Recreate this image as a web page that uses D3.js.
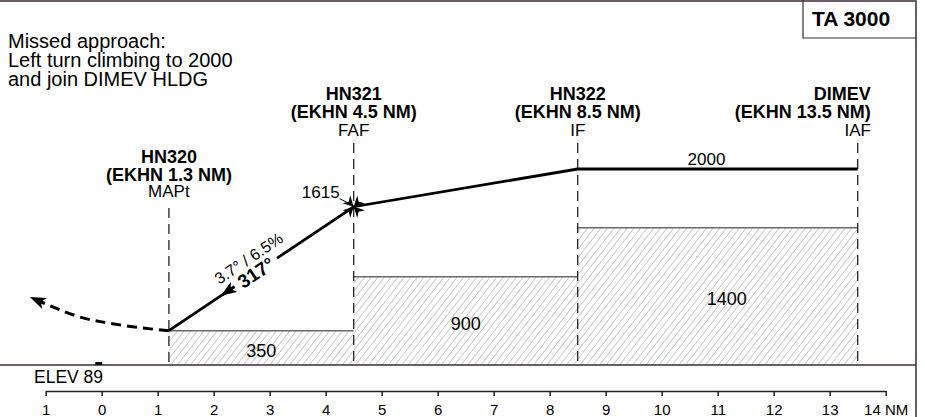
<!DOCTYPE html>
<html>
<head>
<meta charset="utf-8">
<script src="https://cdn.jsdelivr.net/npm/d3@7"></script>
<style>
  html, body { margin: 0; padding: 0; background: #fff; }
  svg { display: block; font-family: "Liberation Sans", Arial, Helvetica, sans-serif; }
</style>
</head>
<body>
<div id="chart"></div>
<script>
// fixes along the final approach (distance from threshold in NM)
const fixNames = ['HN320', 'HN321', 'HN322', 'DIMEV'];
const fixRanges = ['(EKHN 1.3 NM)', '(EKHN 4.5 NM)', '(EKHN 8.5 NM)', '(EKHN 13.5 NM)'];
const fixRoles = ['MAPt', 'FAF', 'IF', 'IAF'];
const fixNm = [1.2, 4.5, 8.5, 13.5];
// vertical profile, ft
const profileFt = [350, 1615, 2000, 2000];
// obstacle clearance blocks
const ocaFromNm = [1.2, 4.5, 8.5];
const ocaToNm = [4.5, 8.5, 13.5];
const ocaFt = [350, 900, 1400];
// missed approach turn (dashed)
const missedNm = [1.2, 0.55, 0, -0.5, -1.25];
const missedFt = [350, 390, 440, 510, 685];
// distance scale
const tickNm = [-1, 0, 1, 2, 3, 4, 5, 6, 7, 8, 9, 10, 11, 12, 13, 14];
const tickLabels = ['1', '0', '1', '2', '3', '4', '5', '6', '7', '8', '9', '10', '11', '12', '13', '14 NM'];
const noteLines = ['Missed approach:', 'Left turn climbing to 2000', 'and join DIMEV HLDG'];
const transAlt = 'TA 3000';
const elevText = 'ELEV 89';
const gradientText = '3.7° / 6.5%';
const trackText = '317°';

const W = 925, H = 417;
const frameRight = 916, tabLeft = 803, tabBottom = 38;
const axisY = 391;
const ink = '#3a2a3a';

const svg = d3.select('#chart').append('svg')
  .attr('width', W)
  .attr('height', H);

const x = d3.scaleLinear().domain([-1, 14]).range([45.7, 885.7]);
const y = d3.scaleLinear().domain([0, 2000]).range([365, 169]);

// hatch for the obstacle blocks
const defs = svg.append('defs');
defs.append('pattern')
  .attr('id', 'hatch')
  .attr('patternUnits', 'userSpaceOnUse')
  .attr('width', 5.2).attr('height', 10)
  .attr('patternTransform', 'rotate(38)')
  .append('line')
  .attr('x1', 0).attr('y1', -1).attr('x2', 0).attr('y2', 11)
  .attr('stroke', '#999').attr('stroke-width', 1);

defs.append('marker')
  .attr('id', 'head')
  .attr('markerUnits', 'userSpaceOnUse')
  .attr('viewBox', '0 0 16 12')
  .attr('markerWidth', 16).attr('markerHeight', 12)
  .attr('refX', 14).attr('refY', 6)
  .attr('orient', 'auto')
  .append('path')
  .attr('d', 'M0,0 L16,6 L0,12 L4,6 Z')
  .attr('fill', '#000');

// frame
svg.append('path')
  .attr('d', `M0,1 H${frameRight} V${H}`)
  .attr('fill', 'none').attr('stroke', ink).attr('stroke-width', 1.5);
svg.append('path')
  .attr('d', `M${tabLeft},0 V${tabBottom} H${frameRight}`)
  .attr('fill', 'none').attr('stroke', ink).attr('stroke-width', 1.2);
svg.append('text')
  .attr('x', 851).attr('y', 26)
  .attr('text-anchor', 'middle')
  .style('font-size', '21px').style('font-weight', 'bold')
  .text(transAlt);

// missed approach note
svg.append('text')
  .attr('x', 8).attr('y', 48)
  .style('font-size', '20px')
  .selectAll('tspan')
  .data(noteLines)
  .enter()
  .append('tspan')
  .attr('x', 8)
  .attr('dy', (d, i) => i ? 19 : 0)
  .text(d => d);

// obstacle blocks
const blocks = ocaFt.map((ft, i) => ({from: ocaFromNm[i], to: ocaToNm[i], ft}));
svg.selectAll('rect.oca')
  .data(blocks)
  .enter()
  .append('rect')
  .attr('class', 'oca')
  .attr('x', d => x(d.from))
  .attr('y', d => y(d.ft))
  .attr('width', d => x(d.to) - x(d.from))
  .attr('height', d => y(0) - y(d.ft))
  .attr('fill', 'url(#hatch)');
svg.selectAll('line.oca-top')
  .data(blocks)
  .enter()
  .append('line')
  .attr('x1', d => x(d.from)).attr('x2', d => x(d.to))
  .attr('y1', d => y(d.ft)).attr('y2', d => y(d.ft))
  .attr('stroke', '#6a6a6a').attr('stroke-width', 1.6);
svg.selectAll('text.oca')
  .data(blocks)
  .enter()
  .append('text')
  .attr('x', (d, i) => x((d.from + d.to) / 2) + (i === 2 ? 9 : 0))
  .attr('y', d => (y(d.ft) + y(0)) / 2 + 9)
  .attr('text-anchor', 'middle')
  .style('font-size', '18px')
  .text(d => d.ft);

// fix lines + labels
const fixes = fixNm.map((nm, i) => ({nm, name: fixNames[i], range: fixRanges[i], role: fixRoles[i]}));
svg.selectAll('line.fix')
  .data(fixes)
  .enter()
  .append('line')
  .attr('x1', d => x(d.nm)).attr('x2', d => x(d.nm))
  .attr('y1', (d, i) => i === 0 ? 208 : 143)
  .attr('y2', y(0))
  .attr('stroke', '#222').attr('stroke-width', 1.3)
  .attr('stroke-dasharray', '10,6');

const fixLabel = svg.selectAll('g.fix-label')
  .data(fixes)
  .enter()
  .append('g')
  .attr('transform', (d, i) => `translate(${x(d.nm)},${i === 0 ? 163 : 100})`);
// the last fix sits near the frame, so its bold lines end at a fixed edge
fixLabel.append('text')
  .attr('x', (d, i) => i === 3 ? 13 : 0)
  .attr('text-anchor', (d, i) => i === 3 ? 'end' : 'middle')
  .style('font-size', '18px').style('font-weight', 'bold')
  .text(d => d.name);
fixLabel.append('text')
  .attr('x', (d, i) => i === 3 ? 13 : 0)
  .attr('y', (d, i) => i === 0 ? 17.5 : 18)
  .attr('text-anchor', (d, i) => i === 3 ? 'end' : 'middle')
  .style('font-size', '18px').style('font-weight', 'bold')
  .text(d => d.range);
fixLabel.append('text')
  .attr('y', (d, i) => i === 0 ? 34 : 36)
  .attr('text-anchor', 'middle')
  .style('font-size', '17px')
  .text(d => d.role);

// ground
svg.append('line')
  .attr('x1', 0).attr('x2', frameRight)
  .attr('y1', y(0)).attr('y2', y(0))
  .attr('stroke', ink).attr('stroke-width', 1.5);
svg.append('rect')
  .attr('x', x(0) - 6.5).attr('y', y(0) - 3)
  .attr('width', 7).attr('height', 3)
  .attr('fill', '#111');
svg.append('text')
  .attr('x', 34).attr('y', 383)
  .style('font-size', '17.5px')
  .text(elevText);

// vertical profile
const pt = (i, t) => [
  x(fixNm[i] + t * (fixNm[i + 1] - fixNm[i])),
  y(profileFt[i] + t * (profileFt[i + 1] - profileFt[i]))
];
const line = d3.line();
const tGapStart = 0.355, tGapEnd = 0.585, tArrow = 0.29, tText = 0.47;

svg.append('path')
  .attr('d', line([pt(0, tGapEnd), ...fixNm.slice(1).map((nm, i) => [x(nm), y(profileFt[i + 1])])]))
  .attr('fill', 'none').attr('stroke', '#000').attr('stroke-width', 2.8);
svg.append('path')
  .attr('d', line([pt(0, 0), pt(0, tGapStart)]))
  .attr('fill', 'none').attr('stroke', '#000').attr('stroke-width', 2.8);
svg.append('path')
  .attr('d', line([pt(0, tGapStart), pt(0, tArrow)]))
  .attr('fill', 'none').attr('stroke', '#000').attr('stroke-width', 2.8)
  .attr('marker-end', 'url(#head)');

const p0 = pt(0, 0), p1 = pt(0, 1);
const angle = Math.atan2(p1[1] - p0[1], p1[0] - p0[0]) * 180 / Math.PI;
const pc = pt(0, tText);
const slopeLabel = svg.append('g')
  .attr('transform', `translate(${pc[0]},${pc[1]}) rotate(${angle})`);
slopeLabel.append('text')
  .attr('y', 7)
  .attr('text-anchor', 'middle')
  .style('font-size', '19px').style('font-weight', 'bold')
  .text(trackText);
slopeLabel.append('text')
  .attr('x', 2).attr('y', -10)
  .attr('text-anchor', 'middle')
  .style('font-size', '16px')
  .text(gradientText);

// FAF symbol
const faf = [x(fixNm[1]), y(profileFt[1])];
const cross = d3.range(4).map(k => {
  const a = (45 + k * 90) * Math.PI / 180, r = 10.5, w = 5.5;
  const rot = (px, py) => [px * Math.cos(a) - py * Math.sin(a), px * Math.sin(a) + py * Math.cos(a)];
  return [[0, 0], rot(r, -w), rot(r - 3.5, 0), rot(r, w)];
});
svg.append('g')
  .attr('transform', `translate(${faf[0]},${faf[1]})`)
  .selectAll('path')
  .data(cross)
  .enter()
  .append('path')
  .attr('d', d => d3.line()(d) + 'Z')
  .attr('fill', '#000');
svg.append('line')
  .attr('x1', faf[0] - 14).attr('y1', faf[1] - 8)
  .attr('x2', faf[0] - 6).attr('y2', faf[1] - 4)
  .attr('stroke', '#000').attr('stroke-width', 1);
svg.append('text')
  .attr('x', faf[0] - 14).attr('y', faf[1] - 9)
  .attr('text-anchor', 'end')
  .style('font-size', '17px')
  .text(profileFt[1]);

// level segment label
svg.append('text')
  .attr('x', x(10.8)).attr('y', y(profileFt[3]) - 4)
  .attr('text-anchor', 'middle')
  .style('font-size', '17px')
  .text(profileFt[3]);

// missed approach turn
svg.append('path')
  .attr('d', d3.line().curve(d3.curveNatural)(missedNm.map((nm, i) => [x(nm), y(missedFt[i])])))
  .attr('fill', 'none').attr('stroke', '#000').attr('stroke-width', 3)
  .attr('stroke-dasharray', '10,6')
  .attr('marker-end', 'url(#head)');

// distance scale
const axis = d3.axisBottom(x)
  .tickValues(tickNm)
  .tickFormat((d, i) => tickLabels[i])
  .tickSize(5)
  .tickSizeOuter(0)
  .tickPadding(8.5);
const axisG = svg.append('g')
  .attr('transform', `translate(0,${axisY})`)
  .call(axis);
axisG.select('.domain').attr('stroke', '#222').attr('stroke-width', 1.5);
axisG.selectAll('.tick line').attr('stroke', '#222').attr('stroke-width', 1.5);
axisG.selectAll('.tick text')
  .attr('fill', '#000')
  .style('font-size', '15px')
  .style('font-family', '"Liberation Sans", Arial, sans-serif');
</script>
</body>
</html>
